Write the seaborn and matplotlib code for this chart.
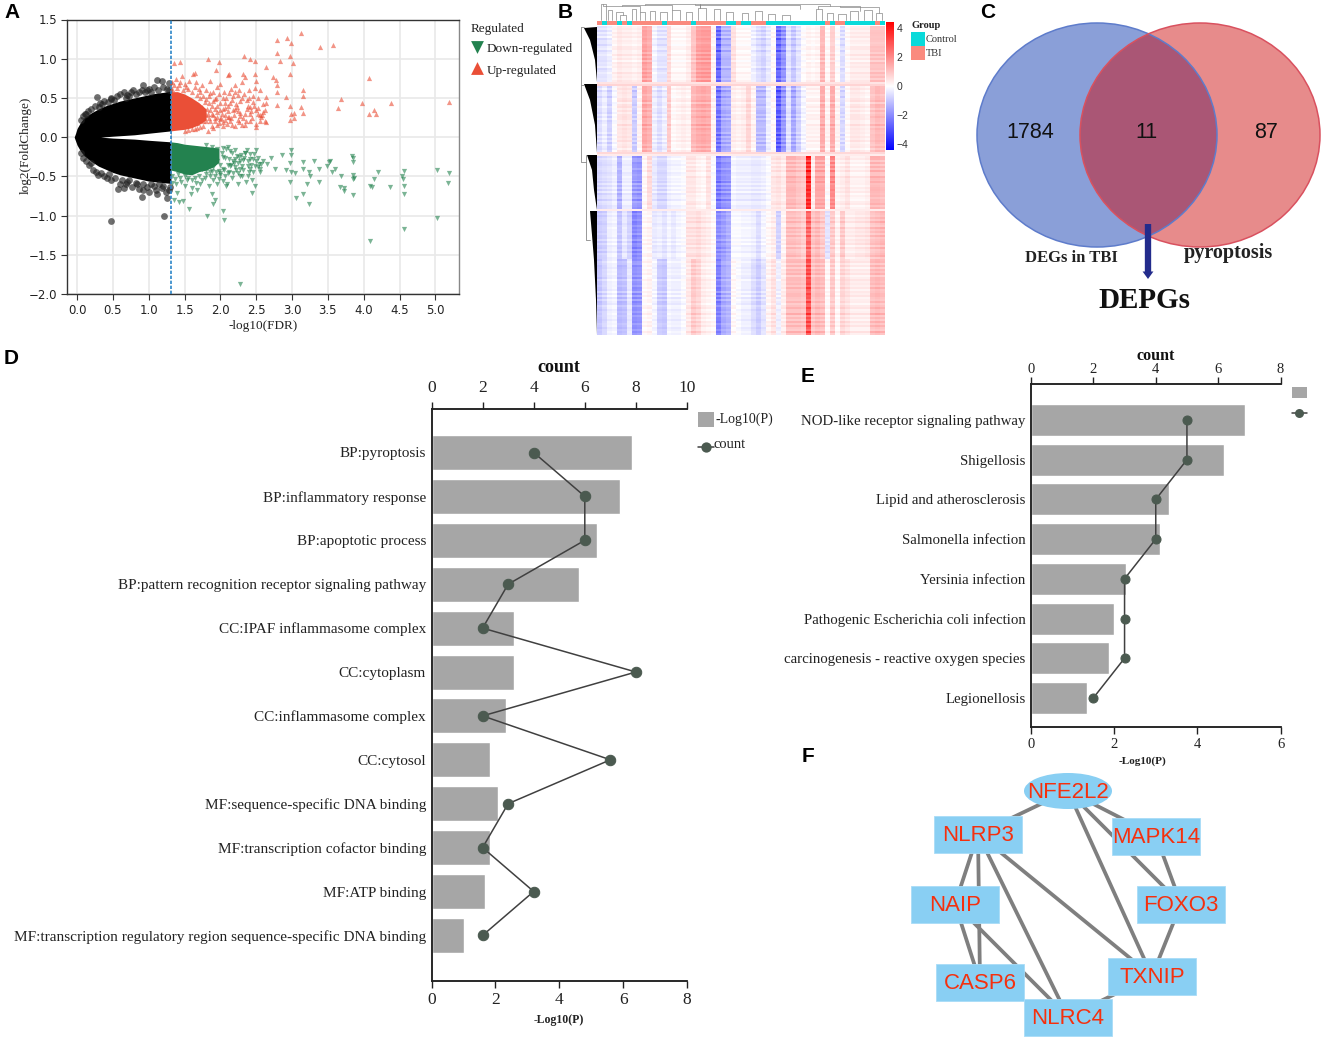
import numpy as np
import pandas as pd
import matplotlib
matplotlib.use("Agg")
import matplotlib.pyplot as plt
from matplotlib.colors import LinearSegmentedColormap, ListedColormap
from matplotlib.patches import Ellipse, Rectangle, Polygon
import seaborn as sns

# ---------- Panel A: volcano ----------
env_x = [-0.04, -0.02, 0.0, 0.05, 0.1, 0.2, 0.3, 0.4, 0.5, 0.6, 0.7, 0.8, 0.9, 1.0, 1.1, 1.2, 1.31]
env_up = [0.0, 0.05, 0.11, 0.19, 0.25, 0.31, 0.36, 0.4, 0.43, 0.46, 0.48, 0.5, 0.52, 0.54, 0.56, 0.57, 0.59]
env_low = [0.0, -0.05, -0.1, -0.18, -0.24, -0.31, -0.37, -0.41, -0.45, -0.48, -0.5, -0.52, -0.54, -0.56, -0.57, -0.58, -0.59]
gap_x = [0.33, 0.5, 0.8, 1.0, 1.31]
gap_up = [0.0, 0.012, 0.03, 0.05, 0.08]
gap_low = [0.0, -0.012, -0.025, -0.04, -0.06]
blk_pts = [(.47,-1.07),(1.21,-1.01),(.28,.51),(.92,.67),(1.11,.73),(1.18,.71),(1.28,.69),(.98,.6),(.75,.58),(.7,.54),(.47,.48),(.32,.43),(.11,.29),(.29,-.48),(.42,-.52),
           (.57,-.66),(.65,-.65),(.9,-.76),(.92,-.67),(.82,-.59),(1.1,-.67),(1.18,-.65),(1.26,-.78),(1.28,-.68),(.7,-.57),(.19,-.33),(1.15,-.6),
           (.05,.22),(.08,.27),(.12,.3),(.16,.33),(.2,.36),(.25,.4),(.3,.38),(.35,.42),(.38,.46),(.43,.45),(.48,.5),(.52,.47),(.56,.52),(.6,.55),(.66,.57),(.68,.5),(.72,.53),
           (.78,.6),(.82,.55),(.86,.57),(.9,.6),(.95,.58),(1.0,.62),(1.03,.58),(1.08,.64),(1.13,.6),(1.2,.64),(1.25,.62),(1.28,.6),
           (.06,-.2),(.09,-.26),(.13,-.3),(.17,-.36),(.22,-.42),(.26,-.44),(.33,-.46),(.37,-.5),(.44,-.47),(.48,-.55),(.53,-.52),(.6,-.6),(.63,-.55),(.68,-.6),(.73,-.55),
           (.77,-.63),(.83,-.6),(.87,-.66),(.92,-.6),(.97,-.63),(1.0,-.7),(1.03,-.6),(1.08,-.62),(1.12,-.72),(1.2,-.62),(1.24,-.7),(1.3,-.64)]
red_mass_x = [1.31, 1.4, 1.5, 1.6, 1.7, 1.8]
red_mass_up = [0.58, 0.58, 0.55, 0.5, 0.44, 0.36]
red_mass_low = [0.08, 0.09, 0.1, 0.12, 0.16, 0.22]
up_pts = [(3.12,1.33),(2.93,1.26),(2.79,1.24),(2.99,1.2),(3.39,1.15),(3.57,1.18),(2.33,1.03),(2.42,1.0),(2.48,.97),(2.79,1.07),(2.97,1.03),(2.83,.97),
          (3.01,.94),(1.83,1.0),(1.98,.96),(1.36,.94),(1.43,.96),(1.94,.86),(1.64,.82),(2.12,.8),(2.32,.81),(2.49,.8),(2.64,.89),(2.74,.77),(2.77,.73),
          (2.97,.8),(4.07,.76),(2.79,.66),(2.79,.58),(3.16,.6),(3.16,.53),(2.91,.51),(2.64,.51),(3.69,.49),(3.98,.43),(4.38,.43),(5.19,.45),(3.64,.37),
          (4.14,.34),(4.07,.29),(4.17,.3),(3.12,.39),(2.97,.4),(2.79,.41),(3.03,.31),(2.98,.29),(3.16,.31),(2.97,.22),(3.03,.24),
          (1.33,.7),(1.38,.74),(1.42,.66),(1.47,.78),(1.5,.68),(1.55,.62),(1.62,.8),(1.66,.7),(1.7,.62),(1.75,.66),(1.8,.6),(1.85,.72),(1.9,.57),(1.95,.64),
          (2.0,.68),(2.05,.58),(2.1,.79),(2.15,.62),(2.2,.66),(2.25,.54),(2.3,.7),(2.35,.77),(2.4,.6),(2.45,.53),(2.5,.72),(2.55,.6),(2.6,.42),
          (1.72,.5),(1.78,.45),(1.84,.52),(1.88,.4),(1.93,.48),(1.98,.55),(2.03,.36),(2.08,.5),(2.13,.44),(2.18,.52),(2.23,.38),(2.28,.46),(2.33,.55),
          (2.38,.4),(2.43,.33),(2.48,.63),(2.53,.37),(2.58,.28),(2.63,.43),(1.74,.3),(1.82,.36),(1.9,.28),(1.96,.4),(2.02,.3),(2.06,.44),(2.12,.26),(2.17,.34),
          (2.22,.42),(2.27,.31),(2.32,.24),(2.37,.36),(2.42,.29),(2.47,.4),(2.52,.3),(2.57,.26),(2.62,.35),(1.7,.24),(1.76,.2),(1.83,.3),(1.92,.2),(1.99,.23),
          (2.04,.19),(2.1,.26),(2.16,.16),(2.24,.22),(2.3,.15),(2.36,.2),(2.44,.25),(2.5,.17),(2.56,.28),(2.64,.19),(1.68,.18),(1.8,.2),(1.88,.14),(1.95,.16),
          (2.01,.24),(2.09,.17),(2.14,.21),(2.2,.14),(2.26,.19),(2.34,.15),(2.41,.21),(2.5,.13),(1.83,.08),
          (1.33,.62),(1.36,.66),(1.4,.63),(1.44,.7),(1.48,.6),(1.52,.64),(1.56,.72),(1.6,.58),(1.64,.64),(1.68,.54),(1.72,.58),(1.76,.52),(1.8,.48),(1.84,.44),(1.86,.56),
          (1.9,.46),(1.92,.36),(1.95,.32),(1.88,.3),(1.84,.24),(1.8,.28),(1.76,.14),(1.72,.13),(1.68,.12),(1.64,.11),(1.6,.1),(1.55,.09),(1.5,.08),(1.9,.12),(1.96,.26),
          (2.0,.44),(2.04,.5),(2.07,.37),(2.1,.33),(2.12,.56),(2.16,.47),(2.19,.28),(2.21,.58),(2.24,.33),(2.26,.6),(2.28,.27),(2.3,.5),(2.35,.3),(2.37,.47),(2.4,.5),
          (2.42,.38),(2.46,.45),(2.5,.35),(2.53,.5),(2.55,.2),(2.6,.32),(2.62,.2),(1.98,.18),(2.03,.14),(2.07,.22),(1.86,.2),(1.92,.25),(1.75,.38),(1.85,.34),(1.94,.5),
          (2.0,.34),(2.06,.28),(2.11,.4),(2.15,.24),(2.2,.36)]
grn_mass_x = [1.31, 1.4, 1.5, 1.6, 1.7, 1.8, 1.9, 1.98]
grn_mass_up = [-0.06, -0.07, -0.09, -0.1, -0.11, -0.12, -0.13, -0.14]
grn_mass_low = [-0.42, -0.44, -0.47, -0.48, -0.44, -0.42, -0.38, -0.32]
dn_pts = [(2.27,-1.87),(4.09,-1.33),(4.56,-1.17),(5.02,-1.03),(1.82,-1.0),(2.04,-.94),(2.05,-1.06),(1.56,-.91),(3.23,-.85),(3.05,-.77),(3.16,-.73),(3.85,-.74),
          (4.56,-.72),(4.56,-.62),(4.37,-.64),(4.11,-.63),(4.09,-.62),(4.14,-.54),(5.18,-.59),(5.19,-.46),(5.02,-.42),(4.56,-.43),(4.54,-.5),(4.55,-.54),
          (4.2,-.45),(3.85,-.48),(3.87,-.52),(3.85,-.54),(3.68,-.5),(3.67,-.63),(3.73,-.69),(3.72,-.65),(3.6,-.4),(3.56,-.45),(3.53,-.31),(3.51,-.32),(3.49,-.37),
          (3.84,-.24),(3.85,-.27),(3.85,-.32),(3.31,-.31),(3.16,-.32),(3.16,-.4),(3.24,-.45),(3.25,-.5),(3.21,-.6),(3.37,-.57),(3.37,-.4),(2.86,-.23),(2.99,-.17),
          (2.99,-.23),(2.7,-.26),(2.97,-.33),(2.97,-.57),(2.91,-.42),(2.99,-.44),(3.04,-.46),(2.76,-.41),(2.65,-.34),(2.44,-.71),(1.92,-.8),(1.9,-.85),(1.36,-.8),
          (1.42,-.83),(1.48,-.82),(1.59,-.73),(1.68,-.68),(1.39,-.71),(1.89,-.72),(1.32,-.58),(1.38,-.6),(1.44,-.52),(1.5,-.62),(1.54,-.55),(1.6,-.65),(1.66,-.58),
          (1.72,-.6),(1.78,-.52),(1.84,-.62),(1.9,-.55),(1.96,-.6),(2.0,-.48),(2.04,-.56),(2.08,-.62),(2.12,-.44),(2.16,-.52),(2.2,-.38),(2.24,-.6),(2.28,-.5),
          (2.32,-.42),(2.36,-.57),(2.4,-.45),(2.44,-.55),(2.48,-.62),(2.52,-.38),(2.56,-.45),(2.6,-.3),(2.02,-.2),(2.06,-.27),(2.1,-.36),(2.14,-.18),(2.18,-.31),
          (2.22,-.42),(2.26,-.25),(2.3,-.37),(2.34,-.2),(2.38,-.3),(2.42,-.41),(2.46,-.28),(2.5,-.17),(2.54,-.34),(1.74,-.41),(1.8,-.47),(1.86,-.5),(1.94,-.44),
          (1.98,-.53),(2.03,-.4),(2.11,-.46),(2.19,-.33),(2.27,-.41),(2.35,-.2),(2.41,-.28),(2.49,-.37),(1.76,-.25),(1.82,-.36),(1.88,-.43),(1.92,-.5),(2.0,-.46),
          (2.09,-.6),(2.15,-.35),(2.23,-.24),(2.31,-.29),(2.37,-.16),(2.47,-.22),
          (1.33,-.5),(1.37,-.54),(1.41,-.47),(1.45,-.57),(1.5,-.5),(1.55,-.52),(1.6,-.55),(1.65,-.52),(1.7,-.5),(1.75,-.55),(1.8,-.42),(1.85,-.45),(1.9,-.38),(1.95,-.3),
          (2.0,-.35),(2.04,-.25),(2.08,-.15),(2.12,-.28),(2.16,-.2),(2.2,-.16),(2.24,-.33),(2.28,-.3),(2.33,-.27),(2.38,-.37),(2.43,-.35),(2.46,-.44),(2.5,-.3),(2.53,-.27),
          (2.57,-.34),(2.05,-.42),(2.13,-.37),(2.07,-.5),(2.18,-.46),(2.25,-.46),(2.03,-.14),(1.96,-.15),(1.88,-.12),(1.8,-.1),(2.1,-.12),(2.21,-.28),(2.29,-.23),(2.42,-.22),
          (1.98,-.43),(2.3,-.5),(2.55,-.4),(2.38,-.5)]
x_ticks_a = [0.0, 0.5, 1.0, 1.5, 2.0, 2.5, 3.0, 3.5, 4.0, 4.5, 5.0]
y_ticks_a = [-2.0, -1.5, -1.0, -0.5, 0.0, 0.5, 1.0, 1.5]
fdr_cut = 1.31

# ---------- Panel B: heatmap ----------
band_a = [-.5,-.5,-.3,.2,.4,.3,.3,.2,.3,1.6,1.4,-.2,-.5,-.5,.6,.1,.1,.1,.3,1.0,1.6,1.7,1.7,.2,-2.6,-1.3,-1.3,.5,.1,.1,.1,-.3,-.6,-.8,-.4,.1,
          -2.6,-1.9,-.5,-1.0,-.5,0,.2,.1,.2,1.2,.1,.8,0,-.6,.1,.3,.3,.3,.3,1.0,1.0,1.0]
band_b = [-.6,-.3,-.8,-.1,.4,.5,.4,-.9,.2,1.5,1.3,-.3,-.6,-.3,.9,.1,.2,.3,.2,1.2,1.4,1.5,1.4,.2,-2.4,-1.5,-1.4,.3,.2,.3,.7,.2,-1.2,-1.2,-.3,.1,
          -2.8,-1.8,-.5,-1.5,-.8,-.2,.2,.2,.2,1.4,.2,1.4,.2,-.7,.1,.4,.4,.3,.2,1.0,1.2,1.1]
band_c = [-.7,-.6,-.5,-.3,-1.3,-.3,-.3,-1.7,-1.8,.1,.6,-.4,-.7,-.7,-.3,-.2,-.2,-.1,.4,.4,.2,.1,.5,-.1,-2.3,-1.9,-1.8,-.2,-.3,-.3,-.3,-.4,-.4,-.3,-.1,.4,
          .5,.3,1.2,1.2,1.0,.9,3.6,.3,1.5,1.5,0,2.0,.2,.3,.5,.2,.2,.2,.3,1.2,1.2,1.1]
band_d = [-.9,-.8,-.3,-.2,-1.0,-.4,-.8,-2.1,-1.9,.1,.2,-.4,-.3,-.5,-.2,-.4,-.2,-.1,.5,.5,.6,.4,.3,.1,-2.0,-1.7,-1.4,-.1,-.1,-.2,-.2,-.3,-.6,-.2,.1,.3,
          -.8,.2,1.1,1.1,1.0,.8,2.6,1.0,1.2,.9,-.5,.9,.2,.9,.3,.3,.4,.4,.5,1.0,1.1,1.2]
band_e = [-1.0,-.7,-.3,-.2,-1.2,-1.1,-.4,-1.9,-1.8,.1,.2,-.2,-.9,-1.0,-.2,-.3,-.3,-.1,.4,.9,.7,.3,.2,.1,-2.2,-1.5,-1.3,.1,-.1,-.3,-.3,-.6,-.9,-.5,.2,.5,
          -.3,.3,1.1,1.1,1.1,1.0,3.0,1.0,1.2,1.1,.1,.9,.1,.7,.5,.3,.3,.3,.3,1.1,1.2,1.1]
band_rows = [28, 2, 33, 2, 27, 1, 24, 38]
row_gain = [1.0,.85,1.12,.92,1.06,.82,1.15,.95,.88,1.1,1.0,.9,1.18,.84,1.04,.93,1.12,.87,1.08,1.0,.85,1.15,.9,1.05,.95,1.1,.82,1.12,.92,1.0,1.06,.88,1.16]
row_shift = [0,.1,-.1,.14,-.05,.18,-.14,.05,0,-.16,.1,.14,-.1,0,.18,-.05,.05,-.14,.1,0,.14,-.1,-.05,.18,0,.05]
col_group = [1,0,1,1,0,1,0,1,1,1,1,1,1,0,1,1,1,1,1,0,1,1,1,1,1,1,0,0,1,0,0,1,1,1,0,0,0,0,0,0,0,0,0,0,0,0,1,0,1,1,0,0,0,0,0,0,1,0]
cbar_ticks = [-4, -2, 0, 2, 4]
dend_brackets = [(601,606,4,20,20),(608,612,10,20,20),(620,626,15,20,20),(616,623,12,20,15),(632,636,9,20,20),(640,645,12,20,20),(650,655,11,20,20),
                 (660,667,12,20,20),(672,680,10,20,20),(686,692,12,20,20),(698,706,8,20,20),(714,720,9,20,20),(726,733,12,20,20),(742,748,13,20,20),
                 (755,762,11,20,20),(768,775,14,20,20),(782,790,15,20,20),(816,822,9,20,20),(827,833,13,20,20),(838,846,14,20,20),(850,858,11,20,20),
                 (864,872,10,20,20),(876,882,13,20,20),(603,640,6,4,12),(622,672,5,6,10),(645,700,4,5,8),(695,800,5,4,9),(818,860,6,9,11),(840,879,7,6,13),
                 (700,830,4,8,6)]
wedges = [[(584,28),(597,27),(597,82),(595,60),(590,40)], [(584,84),(597,84),(597,153),(595,125),(590,100)],
          [(587,155),(597,155),(597,210),(594,190),(592,170)], [(590,211),(597,211),(597,335),(596,300),(594,260),(592,235)]]
dend_lines = [[(581,27),(581,162),(586,162)], [(581,27),(584,27)], [(586,155),(586,240),(590,240)], [(581,85),(584,85)]]

# ---------- Panel C: venn ----------
venn_counts = ["1784", "11", "87"]
venn_names = ["DEGs in TBI", "pyroptosis", "DEPGs"]

# ---------- Panel D ----------
d_terms = ["BP:pyroptosis", "BP:inflammatory response", "BP:apoptotic process", "BP:pattern recognition receptor signaling pathway",
           "CC:IPAF inflammasome complex", "CC:cytoplasm", "CC:inflammasome complex", "CC:cytosol", "MF:sequence-specific DNA binding",
           "MF:transcription cofactor binding", "MF:ATP binding", "MF:transcription regulatory region sequence-specific DNA binding"]
d_logp = [6.27, 5.9, 5.17, 4.63, 2.59, 2.57, 2.32, 1.82, 2.07, 1.82, 1.66, 1.03]
d_count = [4, 6, 6, 3, 2, 8, 2, 7, 3, 2, 4, 2]

# ---------- Panel E ----------
e_terms = ["NOD-like receptor signaling pathway", "Shigellosis", "Lipid and atherosclerosis", "Salmonella infection", "Yersinia infection",
           "Pathogenic Escherichia coli infection", "carcinogenesis - reactive oxygen species", "Legionellosis"]
e_logp = [5.15, 4.65, 3.31, 3.11, 2.29, 2.0, 1.88, 1.34]
e_count = [5, 5, 4, 4, 3, 3, 3, 2]

# ---------- Panel F ----------
net_names = ["NFE2L2", "NLRP3", "MAPK14", "NAIP", "FOXO3", "CASP6", "TXNIP", "NLRC4"]
net_x = [1068, 978, 1156, 955, 1181, 980, 1152, 1068]
net_y = [791, 834, 836, 904, 904, 982, 976, 1017]
net_edges = [("NFE2L2","NLRP3"),("NFE2L2","MAPK14"),("NFE2L2","FOXO3"),("NFE2L2","TXNIP"),("MAPK14","FOXO3"),("FOXO3","TXNIP"),("NLRP3","NAIP"),
             ("NLRP3","CASP6"),("NLRP3","NLRC4"),("NLRP3","TXNIP"),("NAIP","CASP6"),("NAIP","NLRC4"),("TXNIP","NLRC4")]

# ---------- drawing ----------
sns.set_theme(style="white")
SERIF = "Liberation Serif"
SANS = "Liberation Sans"
plt.rcParams["font.family"] = [SERIF, "DejaVu Serif"]
W, H = 1325, 1041
fig = plt.figure(figsize=(W / 100, H / 100), dpi=100, facecolor="white")

def box(l, t, r, b, **kw):
    return fig.add_axes([l / W, 1 - b / H, (r - l) / W, (b - t) / H], **kw)

bg = box(0, 0, W, H)
bg.set_xlim(0, W); bg.set_ylim(H, 0); bg.axis("off")

for letter, x, y in [("A", 12, 13), ("B", 565, 13), ("C", 988, 13), ("D", 11, 359), ("E", 808, 376), ("F", 808, 757)]:
    bg.text(x, y, letter, family=SANS, weight="bold", fontsize=15, ha="center", va="center", color="black")

# A
ax = box(67, 19.5, 459, 294)
ax.set_xlim(-0.14, 5.33); ax.set_ylim(-2.0, 1.5)
ax.grid(True, color="#E9E9E9", lw=1.2); ax.set_axisbelow(True)
ax.fill_between(env_x, env_low, env_up, color="black", lw=0, zorder=2)
ax.fill_between(gap_x, gap_low, gap_up, color="white", lw=0, zorder=3)
ax.fill_between(red_mass_x, red_mass_low, red_mass_up, color="#EA4F37", lw=0, zorder=2)
ax.fill_between(grn_mass_x, grn_mass_low, grn_mass_up, color="#23824F", lw=0, zorder=2)
sns.scatterplot(x=[p[0] for p in blk_pts], y=[p[1] for p in blk_pts], ax=ax, color="#222222", s=24, alpha=0.65, linewidth=0, zorder=4)
sns.scatterplot(x=[p[0] for p in up_pts], y=[p[1] for p in up_pts], ax=ax, color="#EA4F37", marker="^", s=14, alpha=0.6, linewidth=0, zorder=4)
sns.scatterplot(x=[p[0] for p in dn_pts], y=[p[1] for p in dn_pts], ax=ax, color="#23824F", marker="v", s=14, alpha=0.6, linewidth=0, zorder=4)
ax.axvline(fdr_cut, color="#2E86C8", lw=1.2, ls=(0, (2, 1)), zorder=5)
ax.set_xticks(x_ticks_a); ax.set_yticks(y_ticks_a)
ax.tick_params(axis="both", length=4, width=0.8, color="#333333", labelsize=8.5, bottom=True, left=True, pad=3, labelcolor="#222222")
ax.set_xticklabels([f"{v:.1f}" for v in x_ticks_a], family="DejaVu Sans")
ax.set_yticklabels([f"{v:.1f}".replace("-", "\u2212") for v in y_ticks_a], family="DejaVu Sans")
ax.set_xlabel("-log10(FDR)", fontsize=9.5, labelpad=2, color="#222222")
ax.set_ylabel("log2(FoldChange)", fontsize=9.5, labelpad=-2, color="#222222", y=0.543)
for n, s in ax.spines.items():
    s.set_color("#333333" if n in ("left", "bottom", "top") else "#888888"); s.set_linewidth(1.0)
bg.text(471, 29, "Regulated", fontsize=9.5, va="center", color="#222222")
bg.scatter([477], [47], marker="v", s=85, color="#23824F", lw=0)
bg.scatter([477], [68], marker="^", s=85, color="#EA4F37", lw=0)
bg.text(487, 49, "Down-regulated", fontsize=9.5, va="center", color="#222222")
bg.text(487, 71, "Up-regulated", fontsize=9.5, va="center", color="#222222")

# B
rows = []
gi = 0
bands = [band_a, [0.6] * len(band_a), band_b, [0.5] * len(band_a), band_c, [0.2] * len(band_a), band_d, band_e]
for band, n in zip(bands, band_rows):
    for _ in range(n):
        rows.append(np.array(band) * row_gain[gi % len(row_gain)] + row_shift[gi % len(row_shift)])
        gi += 1
matrix = np.array(rows)
cmap = LinearSegmentedColormap.from_list("bwr2", ["#0000FF", "#FFFFFF", "#FF0000"])
hm = box(597, 26, 885, 335)
cb = box(886, 22, 894, 150)
sns.heatmap(matrix, ax=hm, cmap=cmap, vmin=-4.44, vmax=4.44, center=0, cbar_ax=cb, xticklabels=False, yticklabels=False)
cb.set_yticks(cbar_ticks)
cb.set_yticklabels([str(v).replace("-", "\u2212") for v in cbar_ticks], family=SANS, fontsize=7.5, color="#333333")
cb.tick_params(length=0, pad=2)
bar = box(597, 21, 885, 25)
sns.heatmap(np.array([col_group]), ax=bar, cmap=ListedColormap(["#0ADADA", "#FA8A7E"]), cbar=False, xticklabels=False, yticklabels=False, vmin=0, vmax=1)
for xl, xr, top, lb, rb in dend_brackets:
    bg.plot([xl, xl, xr, xr], [lb, top, top, rb], color="#888888", lw=0.5)
for pts in dend_lines:
    bg.plot(*zip(*pts), color="#888888", lw=0.6)
for w in wedges:
    bg.add_patch(Polygon(w, closed=True, color="black", lw=0))
bg.text(911, 25, "Group", fontsize=7.5, weight="bold", va="center", color="#222222")
bg.add_patch(Rectangle((911, 32), 14, 13.5, color="#0ADADA", lw=0))
bg.add_patch(Rectangle((911, 46), 14, 13.5, color="#FA8A7E", lw=0))
bg.text(926, 39, "Control", fontsize=7.5, va="center", color="#333333")
bg.text(926, 53, "TBI", fontsize=7.5, va="center", color="#333333")

# C
blue = Ellipse((1097, 135), 240, 224, fc="#8A9FD8", ec="none", zorder=2)
red = Ellipse((1200, 135), 240, 224, fc="#E78B8B", ec="none", zorder=3)
both = Ellipse((1200, 135), 240, 224, fc="#AA5675", ec="none", zorder=4)
bg.add_patch(blue); bg.add_patch(red); bg.add_patch(both)
both.set_clip_path(Ellipse((1097, 135), 240, 224, transform=bg.transData))
bg.add_patch(Ellipse((1097, 135), 240, 224, fc="none", ec="#5E7CCB", lw=1.1, zorder=5))
bg.add_patch(Ellipse((1200, 135), 240, 224, fc="none", ec="#D9515F", lw=1.1, zorder=6))
for s, x in zip(venn_counts, [1030, 1146, 1266]):
    bg.text(x, 133, s, family=SANS, fontsize=15.5, ha="center", va="center", color="#111111", zorder=7)
bg.text(1071, 258, venn_names[0], fontsize=12, weight="bold", ha="center", va="center", color="#222222")
bg.text(1228, 253, venn_names[1], fontsize=14.5, weight="bold", ha="center", va="center", color="#222222")
bg.text(1144, 301, venn_names[2], fontsize=21, weight="bold", ha="center", va="center", color="#111111")
bg.annotate("", xy=(1148, 279), xytext=(1148, 224), zorder=8,
            arrowprops=dict(arrowstyle="simple,head_width=0.65,head_length=0.45,tail_width=0.38", fc="#232C8C", ec="#232C8C", lw=0, shrinkA=0, shrinkB=0))

# D / E shared drawing
def combo(l, t, r, b, terms, logp, count, xmax, cmax, xt, ct, first, step, barh, lab_fs, tick_fs, title_fs, xl_fs, mk, title_pad, top_pad, xl_x):
    a = box(l, t, r, b)
    df = pd.DataFrame({"term": terms, "logp": logp, "count": count, "pos": np.arange(len(terms))})
    sns.barplot(data=df, y="term", x="logp", ax=a, orient="h", color="#A6A6A6", saturation=1, width=barh / step)
    a.set_xlim(0, xmax); a.set_xticks(xt)
    a.tick_params(axis="x", bottom=True, length=5, width=1, labelsize=tick_fs, pad=3, color="#222222", labelcolor="#222222")
    a.tick_params(axis="y", left=False, length=0, labelsize=lab_fs, pad=4, labelcolor="#222222")
    a.set_ylabel(""); a.set_xlabel("-Log10(P)", fontsize=xl_fs, weight="bold", labelpad=4, color="#222222", x=xl_x)
    a2 = a.twiny()
    sns.lineplot(data=df, x="count", y="pos", ax=a2, orient="y", sort=False, estimator=None, color="#404040", lw=1.1,
                 marker="o", markersize=mk, markerfacecolor="#4B5A50", markeredgecolor="#4B5A50")
    a2.set_xlim(0, cmax); a2.set_xticks(ct)
    a2.tick_params(axis="x", top=True, length=5, width=1, labelsize=tick_fs, pad=top_pad, color="#222222", labelcolor="#222222")
    a2.tick_params(axis="y", left=False, labelleft=False)
    a2.set_xlabel("count", fontsize=title_fs, weight="bold", labelpad=title_pad, color="#111111")
    a2.set_ylabel("")
    top = -(first - t) / step
    bot = (b - first) / step
    a.set_ylim(bot, top); a2.set_ylim(bot, top)
    for ax_ in (a, a2):
        for n, s in ax_.spines.items():
            s.set_visible(n != "right"); s.set_color("#222222"); s.set_linewidth(1.1)
    return a

combo(431.5, 409, 687, 981, d_terms, d_logp, d_count, 8, 10, [0, 2, 4, 6, 8], [0, 2, 4, 6, 8, 10], 452.5, 43.9, 35, 11, 12.5, 13, 8.5, 7.5, 6, 4, 0.5)
bg.add_patch(Rectangle((698, 412), 16, 15, color="#A6A6A6", lw=0))
bg.plot([698, 714], [447, 447], color="#404040", lw=1.1)
bg.scatter([706], [447], s=55, color="#4B5A50", lw=0, zorder=3)
bg.text(715, 419, "-Log10(P)", fontsize=10, va="center", color="#222222")
bg.text(714, 444, "count", fontsize=10.5, va="center", color="#222222")

combo(1031, 384, 1280.5, 726.5, e_terms, e_logp, e_count, 6, 8, [0, 2, 4, 6], [0, 2, 4, 6, 8], 420, 39.7, 32, 10.7, 10.5, 11.5, 8, 6.5, 2, 1, 0.445)
bg.add_patch(Rectangle((1292, 387), 15, 11, color="#A6A6A6", lw=0))
bg.plot([1292, 1307], [413, 413], color="#404040", lw=1.1)
bg.scatter([1299], [413], s=42, color="#4B5A50", lw=0, zorder=3)

# F
idx = {n: i for i, n in enumerate(net_names)}
for p, q in net_edges:
    bg.plot([net_x[idx[p]], net_x[idx[q]]], [net_y[idx[p]], net_y[idx[q]]], color="#7F7F7F", lw=2.7, zorder=9, solid_capstyle="butt")
for n, x, y in zip(net_names, net_x, net_y):
    if n == "NFE2L2":
        bg.add_patch(Ellipse((x, y), 88, 36, fc="#89CFF3", ec="none", zorder=10))
    else:
        bg.add_patch(Rectangle((x - 44, y - 18.5), 88, 37, fc="#89CFF3", ec="#A8DCF7", lw=0.6, zorder=10))
    bg.text(x, y + 1.5, n, family=SANS, fontsize=16, color="#F5300E", ha="center", va="center", zorder=11)

fig.savefig("out.png", dpi=100)
